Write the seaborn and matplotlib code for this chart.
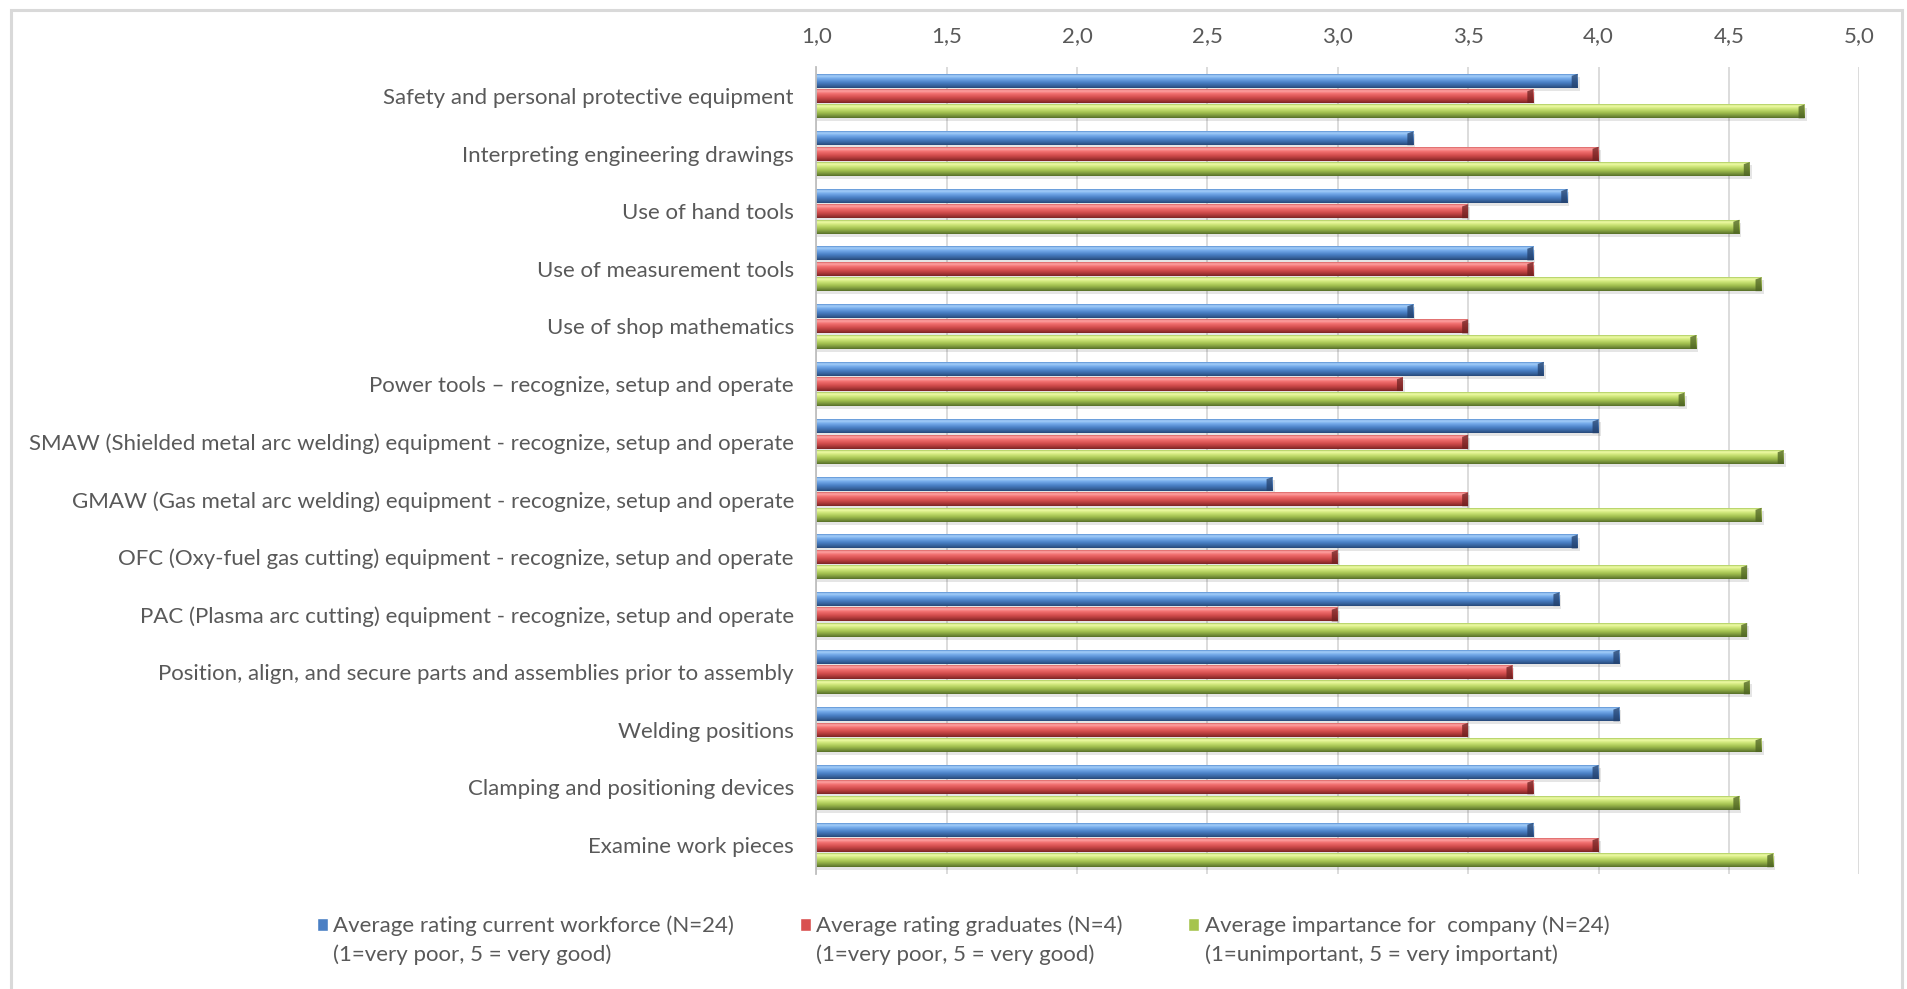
import numpy as np
import pandas as pd
import matplotlib
matplotlib.use("Agg")
import matplotlib.pyplot as plt
from matplotlib.patches import Rectangle, Polygon
from matplotlib.colors import LinearSegmentedColormap
import seaborn as sns

# ---- data -------------------------------------------------------------
skills = [
    "Safety and personal protective equipment",
    "Interpreting engineering drawings",
    "Use of hand tools",
    "Use of measurement tools",
    "Use of shop mathematics",
    "Power tools \u2013 recognize, setup and operate",
    "SMAW (Shielded metal arc welding) equipment - recognize, setup and operate",
    "GMAW (Gas metal arc welding) equipment - recognize, setup and operate",
    "OFC (Oxy-fuel gas cutting) equipment - recognize, setup and operate",
    "PAC (Plasma arc cutting) equipment - recognize, setup and operate",
    "Position, align, and secure parts and assemblies prior to assembly",
    "Welding positions",
    "Clamping and positioning devices",
    "Examine work pieces",
]
workforce = [3.92, 3.29, 3.88, 3.75, 3.29, 3.79, 4.00, 2.75, 3.92, 3.85, 4.08, 4.08, 4.00, 3.75]
graduates = [3.75, 4.00, 3.50, 3.75, 3.50, 3.25, 3.50, 3.50, 3.00, 3.00, 3.67, 3.50, 3.75, 4.00]
importance = [4.79, 4.58, 4.54, 4.625, 4.375, 4.33, 4.71, 4.625, 4.57, 4.57, 4.58, 4.625, 4.54, 4.67]

series_names = [
    "Average rating current workforce (N=24)",
    "Average rating graduates (N=4)",
    "Average impartance for  company (N=24)",
]
series_notes = [
    "(1=very poor, 5 = very good)",
    "(1=very poor, 5 = very good)",
    "(1=unimportant, 5 = very important)",
]
x_ticks = [1.0, 1.5, 2.0, 2.5, 3.0, 3.5, 4.0, 4.5, 5.0]
x_tick_labels = ["1,0", "1,5", "2,0", "2,5", "3,0", "3,5", "4,0", "4,5", "5,0"]

# ---- style ------------------------------------------------------------
base_colors = ["#4a7fc4", "#d9504f", "#a6c44e"]
gradient_stops = [
    ["#5a8fd2", "#a6d0fa", "#74aaea", "#4a80c6", "#36619a", "#274878"],
    ["#d86262", "#ffa4a4", "#f27070", "#d24c4c", "#a23434", "#7a2424"],
    ["#a9c95c", "#f0fca8", "#cfe77a", "#a3c150", "#76913a", "#566e28"],
]
cap_colors = ["#23406c", "#6e2020", "#4d6322"]
text_gray = "#595959"
font_size = 16

sns.set_theme(style="white")
plt.rcParams["font.family"] = ["Lato", "DejaVu Sans"]

df = pd.DataFrame({
    "skill": skills * 3,
    "series": [n for n in series_names for _ in skills],
    "value": workforce + graduates + importance,
})

fig = plt.figure(figsize=(19.07, 9.89), dpi=100)
ax = fig.add_axes([0.428, 0.1165, 0.547, 0.8155])

sns.barplot(
    data=df, x="value", y="skill", hue="series", orient="h",
    palette=dict(zip(series_names, base_colors)), saturation=1,
    width=0.8, ax=ax, legend=True, errorbar=None,
)

# cylinder-like shading, soft shadow and bevelled end on every bar
px_x = 1.0 / 260.6          # one pixel in value units
px_y = 1.0 / 57.6           # one pixel in category units
for i, container in enumerate(ax.containers):
    cmap = LinearSegmentedColormap.from_list(
        f"bar{i}", list(zip([0, 0.12, 0.32, 0.6, 0.85, 1.0], gradient_stops[i])))
    grad = np.linspace(0, 1, 64)[:, None]
    for patch in container.patches:
        y, h = patch.get_y(), patch.get_height()
        patch.set_y(y + h * 0.05)
        patch.set_height(h * 0.9)
        patch.set_edgecolor("none")
        x0 = patch.get_x()
        x1 = x0 + patch.get_width()
        yt = patch.get_y()
        yb = yt + patch.get_height()
        hh = yb - yt
        ax.add_patch(Rectangle((x0, yt + 3 * px_y), x1 - x0 + 2 * px_x, hh,
                               color="#000000", alpha=0.10, lw=0, zorder=1.5))
        ax.imshow(grad, cmap=cmap, aspect="auto", interpolation="bilinear",
                  extent=(x0, x1, yb, yt), zorder=2.2)
        cw = 6 * px_x
        ax.add_patch(Polygon([(x1 - cw, yt + 0.15 * hh), (x1, yt), (x1, yb), (x1 - cw, yb)],
                             closed=True, color=cap_colors[i], alpha=0.75, lw=0, zorder=2.4))

ax.set_xlim(1.0, 5.0)
ax.set_ylim(len(skills) - 0.5, -0.5)
ax.set_xticks(x_ticks)
ax.set_xticklabels(x_tick_labels)
ax.xaxis.tick_top()
ax.set_xlabel("")
ax.set_ylabel("")
ax.xaxis.grid(True, color="#d9d9d9", lw=1.3)
ax.set_axisbelow(True)
ax.tick_params(axis="x", length=0, pad=15, labelsize=font_size, labelcolor=text_gray)
ax.tick_params(axis="y", length=0, pad=16, labelsize=font_size, labelcolor=text_gray)
for side in ["top", "right", "bottom"]:
    ax.spines[side].set_visible(False)
ax.spines["left"].set_color("#bfbfbf")
ax.spines["left"].set_linewidth(1.3)

# legend along the bottom, second line of each entry drawn beneath it
handles, _ = ax.get_legend_handles_labels()
ax.get_legend().remove()
leg = fig.legend(
    handles, series_names, ncol=3, loc="upper left",
    bbox_to_anchor=(0.166, 0.074), frameon=False, fontsize=font_size,
    labelcolor=text_gray, handlelength=0.5, handleheight=0.5,
    handletextpad=0.25, columnspacing=2.95, borderpad=0, borderaxespad=0,
)
fig.canvas.draw()
inv = fig.transFigure.inverted()
for txt, note in zip(leg.get_texts(), series_notes):
    bb = txt.get_window_extent()
    (fx, fy) = inv.transform((bb.x0, bb.y0))
    fig.text(fx, fy - 29 / 989, note, fontsize=font_size, color=text_gray,
             ha="left", va="bottom")

# chart-area frame
fig.patches.append(Rectangle((11 / 1907, -0.02), 1891 / 1907, 1.015 - 5 / 989,
                             transform=fig.transFigure, fill=False,
                             ec="#d9d9d9", lw=2.2))

fig.savefig("out.png", dpi=100, facecolor="white")
